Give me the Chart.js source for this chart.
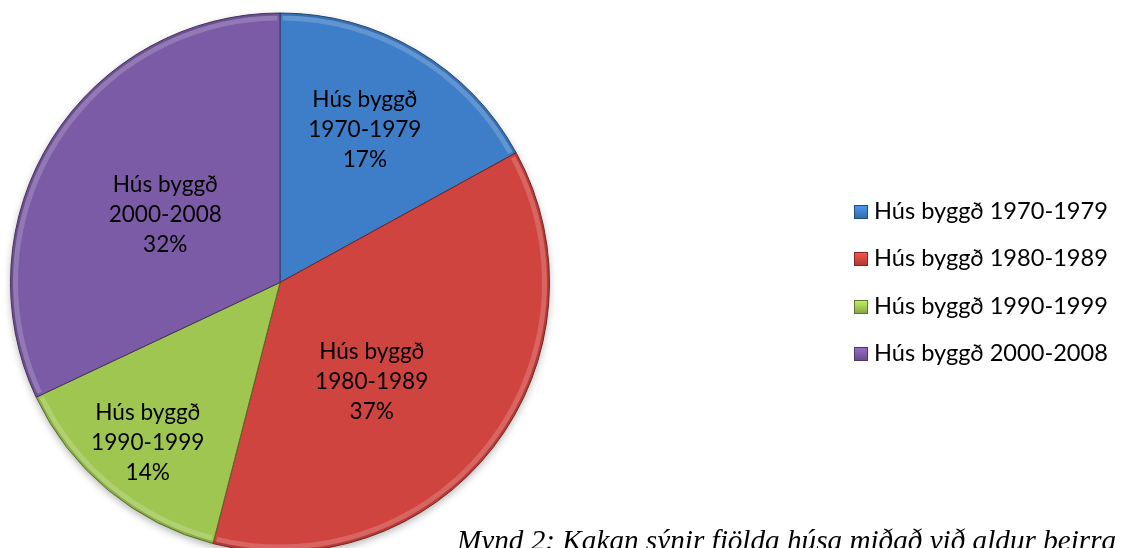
<!DOCTYPE html>
<html>
<head>
<meta charset="utf-8">
<script src="https://cdn.jsdelivr.net/npm/chart.js@4.4.1/dist/chart.umd.min.js"></script>
<style>
    html, body { margin: 0; padding: 0; background: #fff; overflow: hidden; width: 1123px; height: 548px; }
    #wrap { position: absolute; left: 0; top: 0; width: 1123px; height: 560px; }
    #legend { position: absolute; left: 854px; top: 196px; font-family: Lato, "Open Sans", sans-serif; font-size: 23.6px; color: #000; }
    #legend .row { height: 47.3px; display: flex; align-items: flex-start; white-space: nowrap; }
    #legend .box { width: 14px; height: 14px; margin: 9px 6px 0 0; box-sizing: border-box; }
    #caption { position: absolute; left: 457px; top: 524px; font-family: "Liberation Serif", "DejaVu Serif", serif; font-style: italic; font-size: 29.2px; white-space: nowrap; color: #000; }
</style>
</head>
<body>
<div id="wrap"><canvas id="pieChart" width="1123" height="560"></canvas></div>
<div id="legend"></div>
<div id="caption">Mynd 2: Kakan sýnir fjölda húsa miðað við aldur þeirra</div>
<script>
// Kaka: hús eftir byggingarári
const categories = ['Hús byggð 1970-1979', 'Hús byggð 1980-1989', 'Hús byggð 1990-1999', 'Hús byggð 2000-2008'];
const sliceLabels = [['Hús byggð', '1970-1979'], ['Hús byggð', '1980-1989'], ['Hús byggð', '1990-1999'], ['Hús byggð', '2000-2008']];
const shares = [17, 37, 14, 32];

const baseColors = [[62, 126, 200], [208, 68, 63], [160, 198, 82], [124, 91, 166]];
const rgb = (c, k) => `rgb(${Math.min(255, Math.round(c[0] * k))}, ${Math.min(255, Math.round(c[1] * k))}, ${Math.min(255, Math.round(c[2] * k))})`;

// light from the top, slices get darker towards the bottom
function sliceFill(context) {
    const chart = context.chart;
    const arc = chart.getDatasetMeta(0).data[context.dataIndex];
    const c = baseColors[context.dataIndex];
    if (!arc || !arc.outerRadius) return rgb(c, 1);
    const r = arc.outerRadius;
    const g = chart.ctx.createLinearGradient(0, arc.y - r, 0, arc.y + r);
    g.addColorStop(0, rgb(c, 1.06));
    g.addColorStop(0.5, rgb(c, 1.0));
    g.addColorStop(1, rgb(c, 0.86));
    return g;
}

// label placement: [fraction of radius, fraction along the slice angle]
const labelRadius = [0.648, 0.5, 0.77, 0.495];
const labelAngle = [0.475, 0.57, 0.5, 0.485];

const shadowPlugin = {
    id: 'pieShadow',
    beforeDatasetsDraw(chart) {
        const arc = chart.getDatasetMeta(0).data[0];
        if (!arc) return;
        const ctx = chart.ctx;
        ctx.save();
        ctx.shadowColor = 'rgba(0, 0, 0, 0.35)';
        ctx.shadowBlur = 8;
        ctx.shadowOffsetY = 3;
        ctx.fillStyle = '#888';
        ctx.beginPath();
        ctx.arc(arc.x, arc.y, arc.outerRadius - 1, 0, Math.PI * 2);
        ctx.fill();
        ctx.restore();
    }
};

const sliceLabelPlugin = {
    id: 'sliceLabels',
    afterDatasetsDraw(chart) {
        const ctx = chart.ctx;
        const meta = chart.getDatasetMeta(0);
        const total = shares.reduce((a, b) => a + b, 0);
        ctx.save();
        // soft bevel along the rim
        meta.data.forEach((arc, i) => {
            ctx.strokeStyle = 'rgba(255, 255, 255, 0.18)';
            ctx.lineWidth = 5;
            ctx.beginPath();
            ctx.arc(arc.x, arc.y, arc.outerRadius - 5, arc.startAngle + 0.01, arc.endAngle - 0.01);
            ctx.stroke();
            ctx.strokeStyle = 'rgba(0, 0, 0, 0.12)';
            ctx.lineWidth = 2;
            ctx.beginPath();
            ctx.arc(arc.x, arc.y, arc.outerRadius - 1.5, arc.startAngle, arc.endAngle);
            ctx.stroke();
        });
        ctx.font = '22.6px Lato, "Open Sans", sans-serif';
        ctx.fillStyle = '#000';
        ctx.textAlign = 'center';
        ctx.textBaseline = 'middle';
        meta.data.forEach((arc, i) => {
            const a = arc.startAngle + (arc.endAngle - arc.startAngle) * labelAngle[i];
            const r = arc.outerRadius * labelRadius[i];
            const x = arc.x + Math.cos(a) * r;
            const y = arc.y + Math.sin(a) * r;
            const lines = sliceLabels[i].concat([Math.round(shares[i] / total * 100) + '%']);
            lines.forEach((t, j) => ctx.fillText(t, x, y + (j - 1) * 30));
        });
        ctx.restore();
    }
};

const ctx = document.getElementById('pieChart');
new Chart(ctx, {
    type: 'pie',
    data: {
        labels: categories,
        datasets: [{
            data: shares,
            backgroundColor: sliceFill,
            borderColor: baseColors.map(c => rgb(c, 0.55)),
            borderWidth: 1
        }]
    },
    options: {
        responsive: false,
        animation: false,
        layout: { padding: { left: 10, top: 12, right: 573, bottom: 7 } },
        plugins: { legend: { display: false }, tooltip: { enabled: false } }
    },
    plugins: [shadowPlugin, sliceLabelPlugin]
});

// legend drawn as html
const legend = document.getElementById('legend');
categories.forEach((name, i) => {
    const c = baseColors[i];
    const row = document.createElement('div');
    row.className = 'row';
    row.innerHTML = `<div class="box" style="background: linear-gradient(180deg, ${rgb(c, 1.2)}, ${rgb(c, 0.85)}); border: 1px solid ${rgb(c, 0.6)}"></div><span>${name}</span>`;
    legend.appendChild(row);
});
</script>
</body>
</html>
